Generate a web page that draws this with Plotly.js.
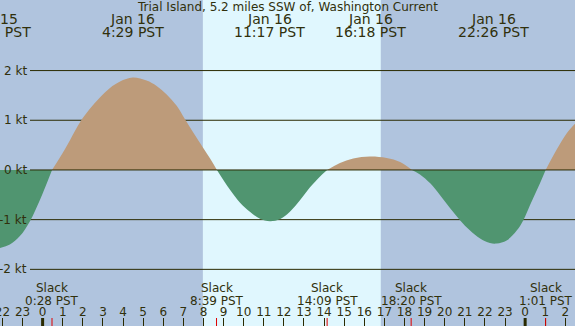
<!DOCTYPE html>
<html><head><meta charset="utf-8">
<script src="https://cdn.plot.ly/plotly-3.0.1.min.js"></script>
<style>html,body{margin:0;padding:0;background:#b0c4de}#chart{width:575px;height:326px}</style>
</head><body><div id="chart"></div>
<script>
// Time in hours relative to Jan 16 00:00 PST, current in knots
const hours = [-2.12, -1.63, -1.13, -0.63, -0.13, 0.36, 0.467,
  0.86, 1.36, 1.86, 2.35, 2.85, 3.35, 3.85, 4.48, 5.17, 5.67, 6.17, 6.67, 7.08, 7.58, 8.33, 8.67,
  9.32, 9.82, 10.31, 10.81, 11.31, 11.80, 12.30, 12.80, 13.30, 13.80, 14.15,
  14.79, 15.45, 16.28, 17.11, 17.78, 18.37,
  18.77, 19.28, 19.77, 20.27, 20.76, 21.26, 21.76, 22.25, 22.59, 23.08, 23.58, 23.91, 24.24, 24.66, 25.02,
  25.57, 26.07, 26.48];
const knots = [-1.57, -1.50, -1.33, -1.03, -0.60, -0.11, 0,
  0.25, 0.60, 0.96, 1.23, 1.46, 1.65, 1.78, 1.86, 1.80, 1.69, 1.52, 1.29, 1.02, 0.70, 0.23, 0,
  -0.40, -0.66, -0.84, -0.98, -1.03, -0.99, -0.84, -0.61, -0.35, -0.13, 0,
  0.14, 0.23, 0.27, 0.24, 0.16, 0,
  -0.09, -0.27, -0.51, -0.77, -1.01, -1.22, -1.38, -1.47, -1.48, -1.42, -1.22, -1.01, -0.71, -0.34, 0,
  0.41, 0.74, 0.93];

const slackTimes = [0.467, 8.65, 14.15, 18.33, 25.02];
const slackLabels = ['0:28 PST', '8:39 PST', '14:09 PST', '18:20 PST', '1:01 PST'];
const peakTimes = [-2.34, 4.48, 11.28, 16.3, 22.43];
const peakDates = ['Jan 15', 'Jan 16', 'Jan 16', 'Jan 16', 'Jan 16'];
const peakLabels = ['21:40 PST', '4:29 PST', '11:17 PST', '16:18 PST', '22:26 PST'];
const sunrise = 7.97, sunset = 16.82;
const gridKnots = [-2, -1, 0, 1, 2];
const gridLabels = ['-2 kt', '-1 kt', '0 kt', '1 kt', '2 kt'];
const hourTicks = [-2,-1,0,1,2,3,4,5,6,7,8,9,10,11,12,13,14,15,16,17,18,19,20,21,22,23,24,25,26];
const hourLabels = ['22','23','0','1','2','3','4','5','6','7','8','9','10','11','12','13','14','15','16','17','18','19','20','21','22','23','0','1','2'];
const midnights = [0, 24];
const xRange = [-2.12, 26.48];
const yRange = [-3.14, 3.42];

const W = 575, H = 326;
const NIGHT = '#b0c4de', DAY = '#e0f7fe', FLOOD = '#bd9b7a', EBB = '#509570';
const LINE = '#2a2a00', TXT = '#30300c', FONT = 'DejaVu Sans';
const py = p => 1 - p / H;
const px = p => p / W;
const toPaper = t => (t - xRange[0]) / (xRange[1] - xRange[0]);

// split the curve into flood / ebb segments at slack (zero) points
const segs = [];
let cur = [[hours[0], knots[0]]];
for (let i = 1; i < hours.length; i++) {
  cur.push([hours[i], knots[i]]);
  if (knots[i] === 0 && i < hours.length - 1) { segs.push(cur); cur = [[hours[i], 0]]; }
}
segs.push(cur);
const traces = segs.map(s => {
  const sum = s.reduce((a, p) => a + p[1], 0);
  return {
    x: s.map(p => p[0]), y: s.map(p => p[1]), type: 'scatter', mode: 'lines',
    line: {width: 0, shape: 'spline', smoothing: 1}, fill: 'tozeroy',
    fillcolor: sum >= 0 ? FLOOD : EBB, hoverinfo: 'skip'
  };
});

const shapes = [];
shapes.push({type: 'rect', xref: 'x', yref: 'paper', x0: sunrise, x1: sunset, y0: 0, y1: 1,
  fillcolor: DAY, line: {width: 0}, layer: 'below'});
gridKnots.forEach(k => shapes.push({type: 'line', xref: 'paper', yref: 'y', x0: px(30), x1: 1, y0: k, y1: k,
  line: {color: LINE, width: 1}, layer: k === 0 ? 'above' : 'below'}));
slackTimes.forEach(t => shapes.push({type: 'line', xref: 'x', yref: 'paper', x0: t, x1: t, y0: 0, y1: 8 / H,
  line: {color: '#e00000', width: 1}, layer: 'above'}));
midnights.forEach(t => shapes.push({type: 'line', xref: 'x', yref: 'paper', x0: t, x1: t, y0: 0, y1: 8 / H,
  line: {color: LINE, width: 3}, layer: 'above'}));

const annotations = [];
gridKnots.forEach((k, i) => annotations.push({xref: 'paper', yref: 'y', x: px(29), y: k, xanchor: 'right', yanchor: 'middle',
  text: gridLabels[i], showarrow: false, font: {family: FONT, size: 12, color: TXT}}));
peakTimes.forEach((t, i) => {
  annotations.push({xref: 'paper', yref: 'paper', x: toPaper(t), y: py(19.5), xanchor: 'center', yanchor: 'middle',
    text: peakDates[i], showarrow: false, font: {family: FONT, size: 14, color: TXT}});
  annotations.push({xref: 'paper', yref: 'paper', x: toPaper(t), y: py(31.5), xanchor: 'center', yanchor: 'middle',
    text: peakLabels[i], showarrow: false, font: {family: FONT, size: 14, color: TXT}});
});
slackTimes.forEach((t, i) => {
  annotations.push({xref: 'paper', yref: 'paper', x: toPaper(t), y: py(287.5), xanchor: 'center', yanchor: 'middle',
    text: 'Slack', showarrow: false, font: {family: FONT, size: 12, color: TXT}});
  annotations.push({xref: 'paper', yref: 'paper', x: toPaper(t), y: py(301), xanchor: 'center', yanchor: 'middle',
    text: slackLabels[i], showarrow: false, font: {family: FONT, size: 12, color: TXT}});
});
annotations.push({xref: 'paper', yref: 'paper', x: 0.5, y: py(7.5), xanchor: 'center', yanchor: 'middle',
  text: 'Trial Island, 5.2 miles SSW of, Washington Current', showarrow: false,
  font: {family: FONT, size: 12, color: TXT}});

const layout = {
  width: W, height: H, margin: {l: 0, r: 0, t: 0, b: 0, pad: 0},
  paper_bgcolor: NIGHT, plot_bgcolor: NIGHT, showlegend: false,
  xaxis: {range: xRange, tickmode: 'array', tickvals: hourTicks, ticktext: hourLabels,
    ticks: 'inside', ticklen: 8, tickwidth: 1, tickcolor: LINE, ticklabelposition: 'inside',
    ticklabelstandoff: -1, ticklabeloverflow: 'allow',
    showgrid: false, zeroline: false, showline: false, fixedrange: true,
    tickfont: {family: FONT, size: 12, color: TXT}},
  yaxis: {range: yRange, showgrid: false, zeroline: false, showticklabels: false, ticks: '', fixedrange: true},
  shapes: shapes, annotations: annotations
};
Plotly.newPlot('chart', traces, layout, {displayModeBar: false, staticPlot: true});
</script></body></html>
